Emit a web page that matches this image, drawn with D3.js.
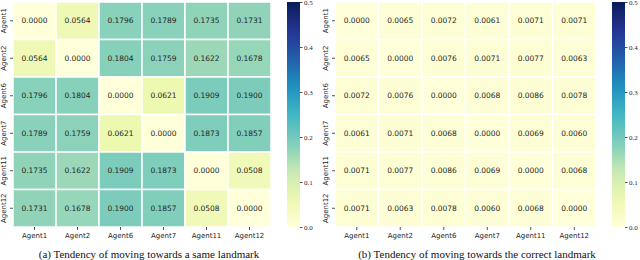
<!DOCTYPE html>
<html>
<head>
<meta charset="utf-8">
<script src="https://cdn.jsdelivr.net/npm/d3@7"></script>
<style>
  body { margin: 0; background: #fff; }
  svg { display: block; }
</style>
</head>
<body>
<div id="chart"></div>
<script>
const agents = ["Agent1", "Agent2", "Agent6", "Agent7", "Agent11", "Agent12"];
const sameLandmark = [
  [0.0000, 0.0564, 0.1796, 0.1789, 0.1735, 0.1731],
  [0.0564, 0.0000, 0.1804, 0.1759, 0.1622, 0.1678],
  [0.1796, 0.1804, 0.0000, 0.0621, 0.1909, 0.1900],
  [0.1789, 0.1759, 0.0621, 0.0000, 0.1873, 0.1857],
  [0.1735, 0.1622, 0.1909, 0.1873, 0.0000, 0.0508],
  [0.1731, 0.1678, 0.1900, 0.1857, 0.0508, 0.0000]
];
const correctLandmark = [
  [0.0000, 0.0065, 0.0072, 0.0061, 0.0071, 0.0071],
  [0.0065, 0.0000, 0.0076, 0.0071, 0.0077, 0.0063],
  [0.0072, 0.0076, 0.0000, 0.0068, 0.0086, 0.0078],
  [0.0061, 0.0071, 0.0068, 0.0000, 0.0069, 0.0060],
  [0.0071, 0.0077, 0.0086, 0.0069, 0.0000, 0.0068],
  [0.0071, 0.0063, 0.0078, 0.0060, 0.0068, 0.0000]
];
const captions = [
  "(a) Tendency of moving towards a same landmark",
  "(b) Tendency of moving towards the correct landmark"
];
const cbarTicks = [0, 0.1, 0.2, 0.3, 0.4, 0.5];

// YlGnBu, piecewise linear like matplotlib
const ylgnbu = ["#ffffd9", "#edf8b1", "#c7e9b4", "#7fcdbb", "#41b6c4",
  "#1d91c0", "#225ea8", "#253494", "#081d58"];
const color = d3.scaleLinear()
  .domain(d3.range(ylgnbu.length).map((i) => (i * 0.5) / (ylgnbu.length - 1)))
  .range(ylgnbu)
  .clamp(true);

const svg = d3.select("#chart").append("svg")
  .attr("width", 640)
  .attr("height", 260);

const mapTop = 2, mapBottom = 227;

const panels = [
  { data: sameLandmark, x0: 13, x1: 271, cb: 287, cap: 149, id: "a" },
  { data: correctLandmark, x0: 335, x1: 596, cb: 612, cap: 477, id: "b" }
];

panels.forEach((p, k) => {
  const g = svg.append("g");
  const x = d3.scaleBand().domain(agents).range([p.x0, p.x1]);
  const y = d3.scaleBand().domain(agents).range([mapTop, mapBottom]);

  const cells = [];
  p.data.forEach((row, i) => row.forEach((v, j) => {
    cells.push({ r: agents[i], c: agents[j], v: v });
  }));

  g.selectAll("rect.cell")
    .data(cells)
    .enter()
    .append("rect")
    .attr("class", "cell")
    .attr("x", (d) => x(d.c))
    .attr("y", (d) => y(d.r))
    .attr("width", x.bandwidth())
    .attr("height", y.bandwidth())
    .attr("fill", (d) => color(d.v))
    .attr("stroke", "#fff")
    .attr("stroke-width", 1.5);

  g.selectAll("text.val")
    .data(cells)
    .enter()
    .append("text")
    .attr("class", "val")
    .attr("x", (d) => x(d.c) + x.bandwidth() / 2)
    .attr("y", (d) => y(d.r) + y.bandwidth() / 2)
    .attr("dy", "0.35em")
    .attr("text-anchor", "middle")
    .attr("font-family", "DejaVu Sans, sans-serif")
    .attr("font-size", 7.5)
    .attr("fill", "#262626")
    .text((d) => d.v.toFixed(4));

  // axes
  const xAxis = g.append("g")
    .attr("transform", `translate(0,${mapBottom})`)
    .call(d3.axisBottom(x).tickSize(3).tickPadding(3));
  xAxis.select(".domain").remove();
  xAxis.selectAll("text")
    .attr("font-family", "DejaVu Sans, sans-serif")
    .attr("font-size", 7)
    .attr("fill", "#262626");

  const yAxis = g.append("g")
    .attr("transform", `translate(${p.x0},0)`)
    .call(d3.axisLeft(y).tickSize(3));
  yAxis.select(".domain").remove();
  yAxis.selectAll("text")
    .attr("transform", "rotate(-90)")
    .attr("x", 0)
    .attr("y", -7)
    .attr("dy", "0")
    .attr("text-anchor", "middle")
    .attr("font-family", "DejaVu Sans, sans-serif")
    .attr("font-size", 7)
    .attr("fill", "#262626");
  g.selectAll(".tick line").attr("stroke", "#262626").attr("stroke-width", 0.8);

  // colorbar
  const grad = svg.append("defs").append("linearGradient")
    .attr("id", "cbar" + p.id)
    .attr("x1", 0).attr("y1", 1).attr("x2", 0).attr("y2", 0);
  grad.selectAll("stop")
    .data(d3.range(0, 1.0001, 0.05))
    .enter()
    .append("stop")
    .attr("offset", (d) => d)
    .attr("stop-color", (d) => color(d * 0.5));

  const cy = d3.scaleLinear().domain([0, 0.5]).range([mapBottom, mapTop]);
  g.append("rect")
    .attr("x", p.cb)
    .attr("y", mapTop)
    .attr("width", 13)
    .attr("height", mapBottom - mapTop)
    .attr("fill", `url(#cbar${p.id})`);
  const cAxis = g.append("g")
    .attr("transform", `translate(${p.cb + 13},0)`)
    .call(d3.axisRight(cy).tickValues(cbarTicks).tickFormat(d3.format(".1f")).tickSize(2.5).tickPadding(1.5));
  cAxis.select(".domain").remove();
  cAxis.selectAll("line").attr("stroke", "#262626").attr("stroke-width", 0.8);
  cAxis.selectAll("text")
    .attr("font-family", "Liberation Serif, serif")
    .attr("font-size", 7)
    .attr("fill", "#262626");

  svg.append("text")
    .attr("x", p.cap)
    .attr("y", 257.5)
    .attr("text-anchor", "middle")
    .attr("font-family", "Liberation Serif, serif")
    .attr("font-size", 11)
    .attr("fill", "#111")
    .text(captions[k]);
});
</script>
</body>
</html>
